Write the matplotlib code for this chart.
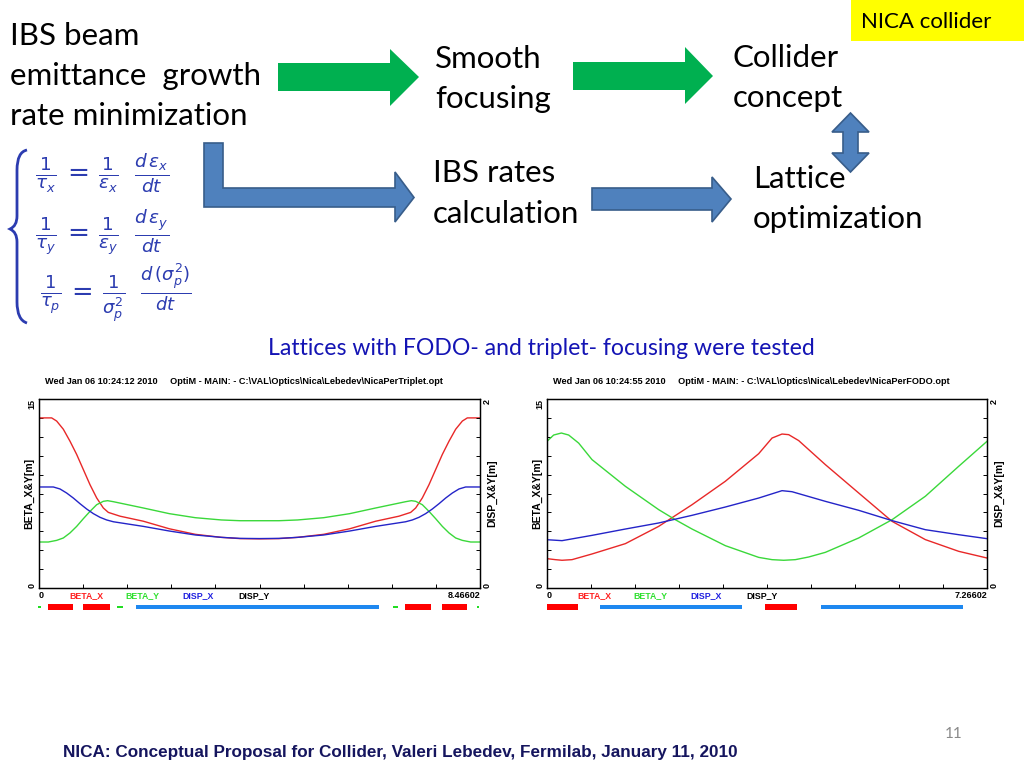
import matplotlib
matplotlib.use('Agg')
import matplotlib.pyplot as plt
from matplotlib.patches import Polygon, Rectangle, PathPatch
from matplotlib.path import Path
from matplotlib.ticker import MultipleLocator, FixedLocator

# ---------------- data: triplet lattice ----------------
TRIP_LEN = 8.46602
trip_bx_s = [0, 0.243, 0.339, 0.467, 0.595, 0.723, 0.851, 0.979, 1.107, 1.235, 1.331, 1.555, 2.003, 2.502, 3.001, 3.500, 3.859, 4.233,
             4.607, 4.966, 5.465, 5.964, 6.463, 6.911, 7.135, 7.231, 7.359, 7.487, 7.615, 7.743, 7.871, 7.999, 8.127, 8.223, 8.466]
trip_bx = [13.5, 13.5, 13.25, 12.6, 11.65, 10.6, 9.4, 8.2, 7.15, 6.35, 6.0, 5.7, 5.3, 4.7, 4.26, 4.02, 3.92, 3.9,
           3.92, 4.02, 4.26, 4.7, 5.3, 5.7, 6.0, 6.35, 7.15, 8.2, 9.4, 10.6, 11.65, 12.6, 13.25, 13.5, 13.5]
trip_by_s = [0, 0.179, 0.339, 0.467, 0.595, 0.723, 0.851, 0.979, 1.107, 1.235, 1.318, 1.427, 2.003, 2.502, 3.001, 3.5, 3.859, 4.233,
             4.607, 4.966, 5.465, 5.964, 6.463, 7.039, 7.148, 7.231, 7.359, 7.487, 7.615, 7.743, 7.871, 7.999, 8.127, 8.287, 8.466]
trip_by = [3.65, 3.65, 3.78, 3.97, 4.37, 4.89, 5.5, 6.08, 6.61, 6.88, 6.93, 6.85, 6.35, 5.9, 5.58, 5.4, 5.34, 5.34,
           5.34, 5.4, 5.58, 5.9, 6.35, 6.85, 6.93, 6.88, 6.61, 6.08, 5.5, 4.89, 4.37, 3.97, 3.78, 3.65, 3.65]
trip_dx_s = [0, 0.275, 0.403, 0.531, 0.659, 0.787, 0.915, 1.043, 1.171, 1.299, 1.427, 2.003, 2.502, 3.001, 3.5, 3.859, 4.233,
             4.607, 4.966, 5.465, 5.964, 6.463, 7.039, 7.167, 7.295, 7.423, 7.551, 7.679, 7.807, 7.935, 8.063, 8.191, 8.466]
trip_dx = [1.069, 1.069, 1.048, 1.005, 0.952, 0.892, 0.836, 0.787, 0.748, 0.72, 0.701, 0.652, 0.603, 0.561, 0.536, 0.525, 0.523,
           0.525, 0.536, 0.561, 0.603, 0.652, 0.701, 0.72, 0.748, 0.787, 0.836, 0.892, 0.952, 1.005, 1.048, 1.069, 1.069]
# elements: (start, end, kind)
trip_elem_start = [-0.02, 0.166, 0.851, 1.504, 1.856, 6.789, 7.026, 7.730, 8.402]
trip_elem_end = [0.04, 0.659, 1.363, 1.619, 6.533, 6.885, 7.525, 8.223, 8.453]
trip_elem_kind = ['S', 'Q', 'Q', 'S', 'B', 'S', 'Q', 'Q', 'S']

# ---------------- data: FODO lattice ----------------
FODO_LEN = 7.26602
fodo_bx_s = [0, 0.138, 0.248, 0.413, 0.743, 1.294, 1.844, 2.395, 2.945, 3.496, 3.716, 3.881, 3.991, 4.156, 4.597, 5.147, 5.698, 6.248, 6.799, 7.266]
fodo_bx = [2.33, 2.25, 2.2, 2.25, 2.7, 3.52, 4.89, 6.61, 8.47, 10.66, 11.9, 12.22, 12.17, 11.7, 9.79, 7.54, 5.29, 3.84, 2.91, 2.38]
fodo_by_s = [0, 0.11, 0.237, 0.358, 0.523, 0.743, 1.294, 1.844, 2.119, 2.395, 2.945, 3.496, 3.716, 3.909, 4.101, 4.321, 4.597, 5.147, 5.698, 6.248, 6.799, 7.266]
fodo_by = [11.64, 12.14, 12.3, 12.14, 11.5, 10.19, 8.07, 6.22, 5.42, 4.68, 3.36, 2.43, 2.25, 2.2, 2.25, 2.46, 2.83, 3.97, 5.42, 7.28, 9.66, 11.64]
fodo_dx_s = [0, 0.248, 0.743, 1.294, 1.844, 2.395, 2.945, 3.496, 3.881, 4.046, 4.597, 5.147, 5.698, 6.248, 6.799, 7.266]
fodo_dx = [0.511, 0.501, 0.557, 0.624, 0.688, 0.769, 0.857, 0.952, 1.030, 1.019, 0.917, 0.822, 0.713, 0.617, 0.564, 0.522]
fodo_elem_start = [0.0, 0.881, 3.606, 4.530]
fodo_elem_end = [0.52, 3.220, 4.128, 6.870]
fodo_elem_kind = ['Q', 'B', 'Q', 'B']

legend_names = ['BETA_X', 'BETA_Y', 'DISP_X', 'DISP_Y']

# ---------------- styles ----------------
C_BX, C_BY, C_DX = '#e82828', '#3ad83a', '#2424c8'
LEG_COLORS = ['#ff2020', '#2ee02e', '#2020e0', '#000000']
ELEM_STYLE = {'Q': ('#ff0000', 1.0), 'B': ('#1e88f0', 0.75), 'S': ('#22dd22', 0.45)}
SLIDE_FONT = ['Lato', 'DejaVu Sans']
TECH_FONT = ['Liberation Sans', 'DejaVu Sans']

W, H = 1024, 768
fig = plt.figure(figsize=(W / 100, H / 100), dpi=100)
bg = fig.add_axes([0, 0, 1, 1])
bg.set_xlim(0, W)
bg.set_ylim(H, 0)
bg.axis('off')

def T(x, y, s, **kw):
    kw.setdefault('family', SLIDE_FONT)
    kw.setdefault('va', 'baseline')
    bg.text(x, y, s, **kw)

# ---------- slide text ----------
FS = 22.5
T(10, 45, 'IBS beam', fontsize=FS)
T(10, 85, 'emittance  growth', fontsize=FS)
T(10, 125, 'rate minimization', fontsize=FS)
T(435, 68, 'Smooth', fontsize=FS)
T(435, 108, 'focusing', fontsize=FS)
T(733, 67, 'Collider', fontsize=FS)
T(733, 107, 'concept', fontsize=FS)
T(433, 182, 'IBS rates', fontsize=FS)
T(433, 223, 'calculation', fontsize=FS)
T(753, 188, 'Lattice', fontsize=FS)
T(753, 228, 'optimization', fontsize=FS)

bg.add_patch(Rectangle((851, 0), 173, 41, facecolor='#ffff00', edgecolor='none'))
T(861, 28, 'NICA collider', fontsize=16)

T(268, 355, 'Lattices with FODO- and triplet- focusing were tested', fontsize=16.6, color='#1414b4')
T(63, 757, 'NICA: Conceptual Proposal for Collider, Valeri Lebedev, Fermilab, January 11, 2010',
  fontsize=12.35, fontweight='bold', color='#15155e', family=TECH_FONT)
T(945, 738, '11', fontsize=11, color='#8a8a8a')

# ---------- arrows ----------
GREEN = '#00b050'
BLUE_F, BLUE_E = '#4f81bd', '#385d8a'
bg.add_patch(Polygon([(278, 63), (390, 63), (390, 49), (419, 77), (390, 106), (390, 91), (278, 91)],
                     closed=True, facecolor=GREEN, edgecolor='none'))
bg.add_patch(Polygon([(573, 62), (685, 62), (685, 47), (713, 76), (685, 104), (685, 90), (573, 90)],
                     closed=True, facecolor=GREEN, edgecolor='none'))
bg.add_patch(Polygon([(204, 143), (223, 143), (223, 188), (395, 188), (395, 172), (414, 197.5), (395, 222),
                      (395, 207), (204, 207)], closed=True, facecolor=BLUE_F, edgecolor=BLUE_E, lw=1.2))
bg.add_patch(Polygon([(592, 188), (712, 188), (712, 177), (731, 199), (712, 222), (712, 210), (592, 210)],
                     closed=True, facecolor=BLUE_F, edgecolor=BLUE_E, lw=1.2))
bg.add_patch(Polygon([(850.5, 113), (869, 132), (858, 132), (858, 153), (869, 153), (850.5, 172), (832, 153),
                      (843, 153), (843, 132), (832, 132)], closed=True, facecolor=BLUE_F, edgecolor=BLUE_E, lw=1.2))

# ---------- handwritten formulas ----------
FCOL = '#2c3cb0'
brace = Path([(27, 150), (17, 152), (17, 170), (17, 216), (17, 226), (10, 229), (17, 232), (17, 242),
              (17, 302), (17, 320), (27, 323)],
             [Path.MOVETO, Path.CURVE3, Path.CURVE3, Path.LINETO, Path.CURVE3, Path.CURVE3, Path.CURVE3,
              Path.CURVE3, Path.LINETO, Path.CURVE3, Path.CURVE3])
bg.add_patch(PathPatch(brace, facecolor='none', edgecolor=FCOL, lw=2))
bg.text(35, 173, r'$\frac{1}{\tau_x}\,=\,\frac{1}{\varepsilon_x}\;\;\frac{d\,\varepsilon_x}{dt}$',
        fontsize=19, color=FCOL, va='center', ha='left')
bg.text(35, 233, r'$\frac{1}{\tau_y}\,=\,\frac{1}{\varepsilon_y}\;\;\frac{d\,\varepsilon_y}{dt}$',
        fontsize=19, color=FCOL, va='center', ha='left')
bg.text(40, 293, r'$\frac{1}{\tau_p}\,=\,\frac{1}{\sigma_p^2}\;\;\frac{d\,(\sigma_p^2)}{dt}$',
        fontsize=18.5, color=FCOL, va='center', ha='left')

# ---------- lattice plots ----------
def lattice_plot(x0, x1, length, len_label, title, bx_s, bx, by_s, by, dx_s, dx, es, ee, ek):
    y0, y1 = 399, 588
    ax = fig.add_axes([x0 / W, (H - y1) / H, (x1 - x0) / W, (y1 - y0) / H])
    ax.plot(bx_s, bx, color=C_BX, lw=1.0)
    ax.plot(by_s, by, color=C_BY, lw=1.0)
    ax.set_xlim(0, length)
    ax.set_ylim(0, 15)
    ax2 = ax.twinx()
    ax2.plot(dx_s, dx, color=C_DX, lw=1.0)
    ax2.set_ylim(0, 2)
    for a in (ax, ax2):
        a.set_facecolor('none')
        for sp in a.spines.values():
            sp.set_linewidth(0.9)
    ax.xaxis.set_major_locator(FixedLocator([0, length]))
    ax.set_xticklabels(['0', len_label], fontsize=6.5, fontweight='bold', family=TECH_FONT)
    xl = ax.get_xticklabels()
    xl[0].set_ha('left')
    xl[1].set_ha('right')
    ax.xaxis.set_minor_locator(FixedLocator([length * k / 10 for k in range(1, 10)]))
    ax.yaxis.set_major_locator(FixedLocator([0, 15]))
    ax.yaxis.set_minor_locator(MultipleLocator(1.5))
    ax.set_yticklabels(['0', '15'], fontsize=6.5, fontweight='bold', rotation=90, family=TECH_FONT)
    yl = ax.get_yticklabels()
    yl[0].set_va('bottom')
    yl[1].set_va('top')
    ax2.yaxis.set_major_locator(FixedLocator([0, 2]))
    ax2.yaxis.set_minor_locator(MultipleLocator(0.2))
    ax2.set_yticklabels(['0', '2'], fontsize=6.5, fontweight='bold', rotation=90, family=TECH_FONT)
    yl2 = ax2.get_yticklabels()
    yl2[0].set_va('bottom')
    yl2[1].set_va('top')
    ax.tick_params(which='major', direction='in', length=0, pad=2)
    ax.tick_params(which='minor', direction='in', length=3, width=0.7)
    ax2.tick_params(which='major', direction='in', length=0, pad=2)
    ax2.tick_params(which='minor', direction='in', length=3, width=0.7)
    ax.set_ylabel('BETA_X&Y[m]', fontsize=7.5, fontweight='bold', family=TECH_FONT, labelpad=-5)
    ax2.set_ylabel('DISP_X&Y[m]', fontsize=7.5, fontweight='bold', family=TECH_FONT, labelpad=-3)
    # title
    bg.text(x0 + 6, 382, title, fontsize=6.55, fontweight='bold', family=TECH_FONT, va='center', ha='left')
    # legend names
    for i, (name, col) in enumerate(zip(legend_names, LEG_COLORS)):
        bg.text(x0 + 30 + 56.5 * i, 596, name, fontsize=6.3, fontweight='bold', family=TECH_FONT,
                color=col, va='center', ha='left')
    # element strip
    ex = fig.add_axes([x0 / W, (H - 613) / H, (x1 - x0) / W, 12 / H])
    ex.set_xlim(0, length)
    ex.set_ylim(-1, 1)
    ex.axis('off')
    for s0, s1, k in zip(es, ee, ek):
        col, h = ELEM_STYLE[k]
        ex.barh(0, s1 - s0, left=s0, height=h, color=col, clip_on=False)
    return ax

lattice_plot(39, 480, TRIP_LEN, '8.46602',
             'Wed Jan 06 10:24:12 2010     OptiM - MAIN: - C:\\VAL\\Optics\\Nica\\Lebedev\\NicaPerTriplet.opt',
             trip_bx_s, trip_bx, trip_by_s, trip_by, trip_dx_s, trip_dx,
             trip_elem_start, trip_elem_end, trip_elem_kind)
lattice_plot(547, 987, FODO_LEN, '7.26602',
             'Wed Jan 06 10:24:55 2010     OptiM - MAIN: - C:\\VAL\\Optics\\Nica\\Lebedev\\NicaPerFODO.opt',
             fodo_bx_s, fodo_bx, fodo_by_s, fodo_by, fodo_dx_s, fodo_dx,
             fodo_elem_start, fodo_elem_end, fodo_elem_kind)

fig.savefig('out.png', dpi=100)
